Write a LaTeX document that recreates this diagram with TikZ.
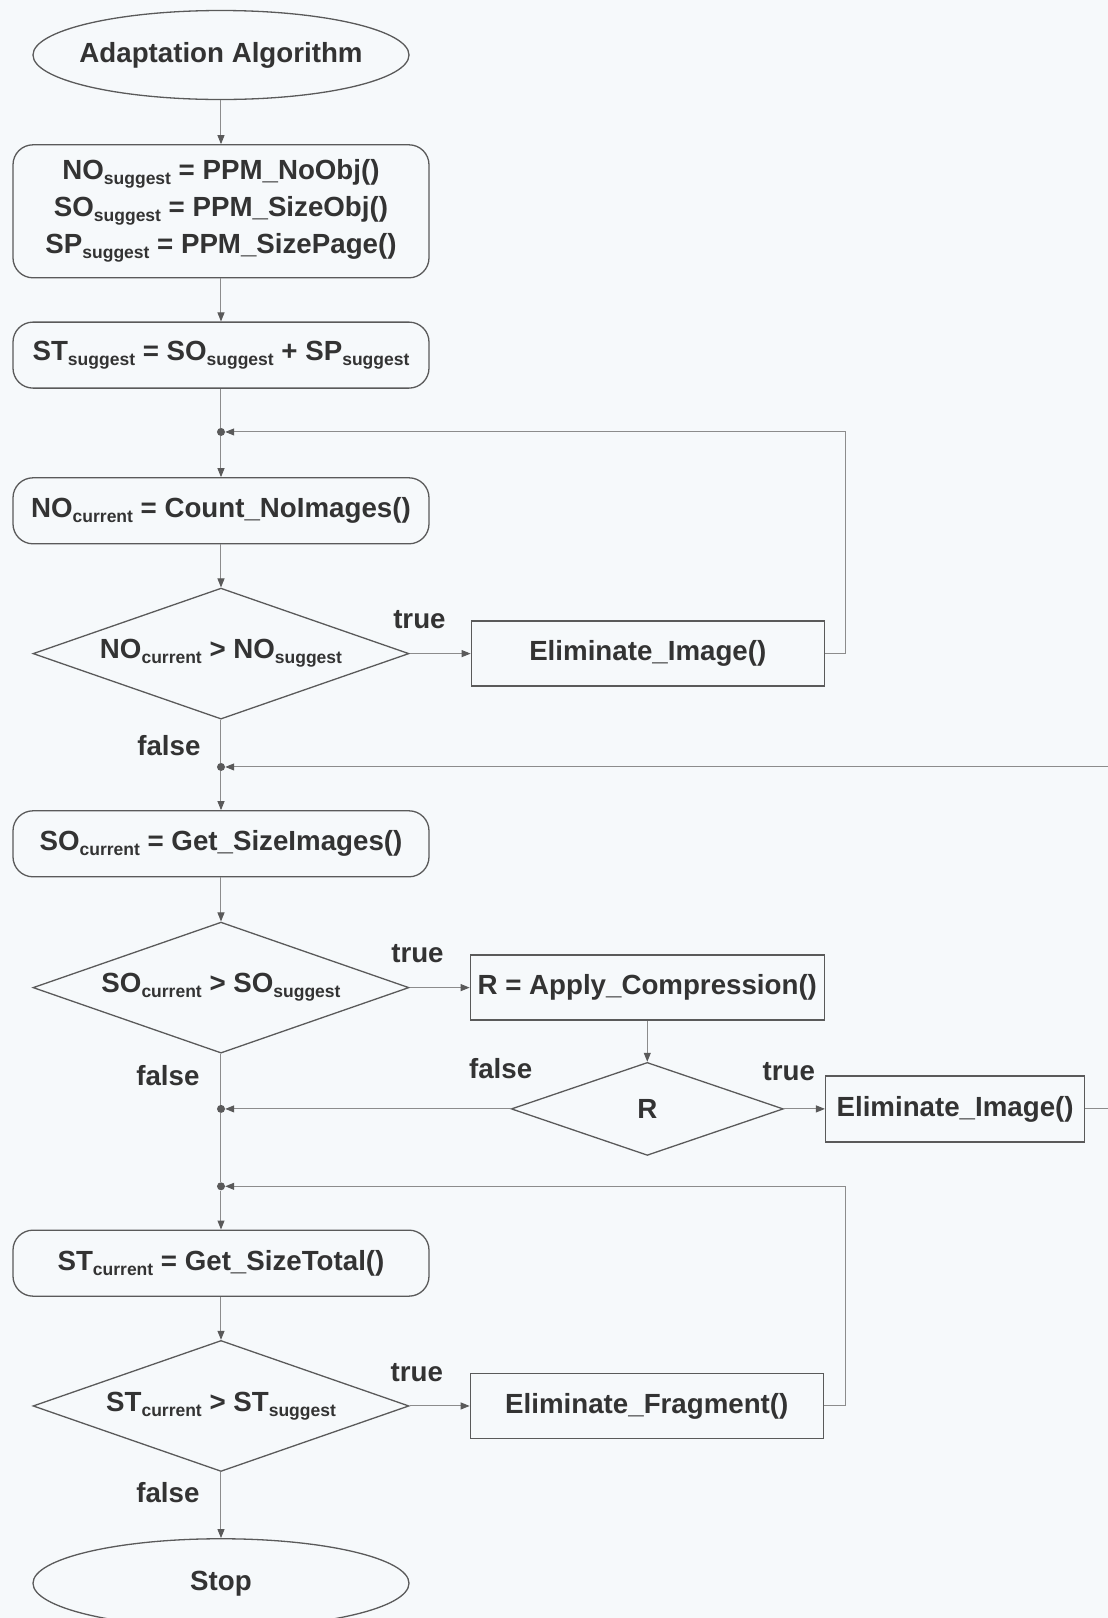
\documentclass[tikz,border=0pt]{standalone}
\usepackage{fontspec}
\setmainfont{Liberation Sans}
\usetikzlibrary{shapes.geometric, arrows.meta, positioning, calc}
\definecolor{flowline}{HTML}{8C8C8C}
\definecolor{flowedge}{HTML}{5A5A5A}
\definecolor{flowtext}{HTML}{333333}
\definecolor{paper}{HTML}{F6F9FB}
\newcommand{\lowtext}[1]{\raisebox{-5pt}{\fontsize{17.5}{17.5}\selectfont #1}}

\begin{document}
\begin{tikzpicture}[
    x=1pt, y=1pt,
    every node/.style={font=\fontsize{27.7}{37}\selectfont\bfseries, text=flowtext},
    terminal/.style={draw=flowedge, ellipse, line width=1.3pt, minimum width=376pt, minimum height=89pt, inner xsep=-9pt, inner ysep=2pt},
    process/.style={draw=flowedge, rounded corners=20pt, line width=1.3pt, minimum width=416pt, minimum height=66pt, align=center, inner sep=2pt},
    action/.style={draw=flowedge, rectangle, line width=1.3pt, minimum width=353pt, minimum height=65pt, inner sep=2pt},
    decision/.style={draw=flowedge, diamond, aspect=3, line width=1.3pt, minimum width=376pt, minimum height=131pt, inner sep=0pt},
    merge/.style={circle, fill=flowedge, minimum size=8pt, inner sep=0pt},
    lbl/.style={inner sep=0pt},
    link/.style={draw=flowline, line width=1pt},
    arrow/.style={link, -{Triangle[length=9pt, width=7pt, color=flowedge]}}
]
    \path[use as bounding box, fill=paper] (-221,55) rectangle (887,-1563);

    % main column
    \node[terminal] (start) at (0,0) {Adaptation Algorithm};
    \node[process, minimum height=133pt, below=44pt of start] (init) {NO\lowtext{suggest} = PPM\_NoObj()\\SO\lowtext{suggest} = PPM\_SizeObj()\\SP\lowtext{suggest} = PPM\_SizePage()};
    \node[process, below=43pt of init] (sugg) {ST\lowtext{suggest} = SO\lowtext{suggest} + SP\lowtext{suggest}};
    \node[merge, below=39pt of sugg] (m1) {};
    \node[process, below=41pt of m1] (cnt) {NO\lowtext{current} = Count\_NoImages()};
    \node[decision, below=43pt of cnt] (dimg) {NO\lowtext{current} > NO\lowtext{suggest}};
    \node[action, right=61pt of dimg] (elimA) {Eliminate\_Image()};
    \node[merge, below=43pt of dimg] (m2) {};
    \node[process, below=39pt of m2] (size) {SO\lowtext{current} = Get\_SizeImages()};
    \node[decision, below=44pt of size] (dsize) {SO\lowtext{current} > SO\lowtext{suggest}};
    \node[action, minimum width=354pt, right=60pt of dsize] (comp) {R = Apply\_Compression()};
    \node[decision, minimum width=272pt, minimum height=93pt, below=41pt of comp] (dr) {R};
    \node[action, minimum width=259pt, minimum height=66pt, right=41pt of dr] (elimB) {Eliminate\_Image()};
    \node[merge] (m3) at (dsize |- dr) {};
    \node[merge, below=69pt of m3] (m4) {};
    \node[process, below=39pt of m4] (total) {ST\lowtext{current} = Get\_SizeTotal()};
    \node[decision, below=43pt of total] (dtot) {ST\lowtext{current} > ST\lowtext{suggest}};
    \node[action, right=60pt of dtot] (frag) {Eliminate\_Fragment()};
    \node[terminal, below=66pt of dtot] (stop) {Stop};

    % spine
    \draw[arrow] (start) -- (init);
    \draw[arrow] (init) -- (sugg);
    \draw[link] (sugg) -- (m1);
    \draw[arrow] (m1) -- (cnt);
    \draw[arrow] (cnt) -- (dimg);
    \draw[arrow] (dimg) -- node[lbl, pos=0.16, above=24pt] {true} (elimA);
    \draw[link] (dimg) -- node[lbl, pos=0.6, left=20pt] {false} (m2);
    \draw[arrow] (m2) -- (size);
    \draw[arrow] (size) -- (dsize);
    \draw[arrow] (dsize) -- node[lbl, pos=0.13, above=24pt] {true} (comp);
    \draw[arrow] (comp) -- (dr);
    \draw[arrow] (dr) -- node[lbl, pos=0.12, above=28pt] {true} (elimB);
    \draw[link] (dsize) -- node[lbl, pos=0.42, left=21pt] {false} (m3);
    \draw[link] (m3) -- (m4);
    \draw[arrow] (m4) -- (total);
    \draw[arrow] (total) -- (dtot);
    \draw[arrow] (dtot) -- node[lbl, pos=0.12, above=24pt] {true} (frag);
    \draw[arrow] (dtot) -- node[lbl, pos=0.31, left=21pt] {false} (stop);

    % loops back
    \draw[arrow] (elimA.east) -- ++(21,0) |- (m1);
    \draw[arrow] (elimB.east) -- ++(24,0) |- (m2);
    \draw[arrow] (dr.west) -- node[lbl, pos=0.035, above=30pt] {false} (m3);
    \draw[arrow] (frag.east) -- ++(22,0) |- (m4);
\end{tikzpicture}
\end{document}
